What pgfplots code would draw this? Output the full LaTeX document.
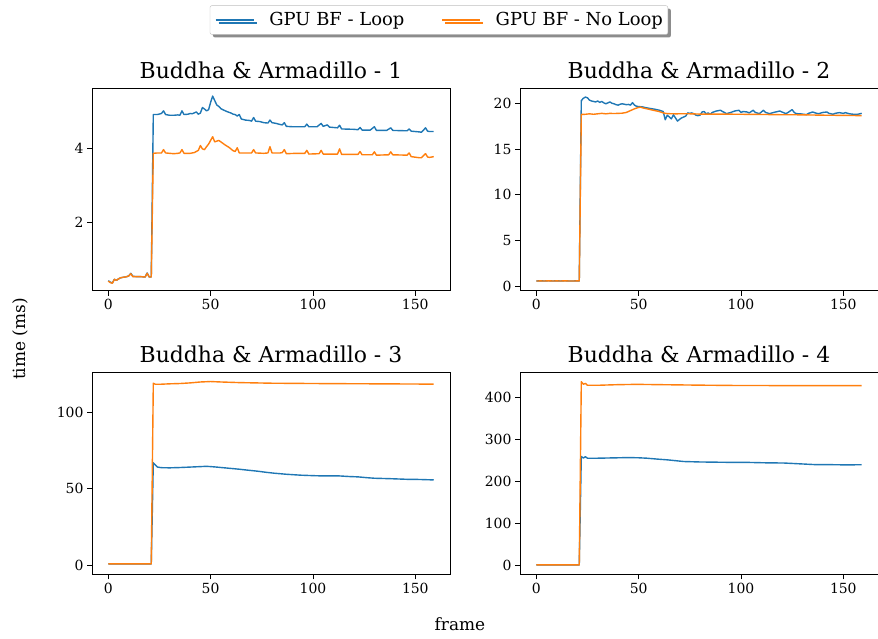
\documentclass[border=0pt]{standalone}
\usepackage{fontspec}
\setmainfont{DejaVu Serif}
\usepackage{pgfplots}
\pgfplotsset{compat=1.18}
\usetikzlibrary{shadows}

\definecolor{mplblue}{HTML}{1F77B4}
\definecolor{mplorange}{HTML}{FF7F0E}

\pgfplotsset{
  panel/.style={
    scale only axis, width=358bp, height=202bp,
    xmin=-7.95, xmax=166.95,
    xtick={0,50,100,150},
    tick align=outside, xtick pos=bottom, ytick pos=left,
    major tick length=5bp,
    every tick/.style={black, line width=0.8bp},
    axis line style={line width=0.8bp},
    tick label style={font=\fontsize{14}{16}\selectfont,
      /pgf/number format/assume math mode=true},
    title style={font=\fontsize{22}{24}\selectfont, anchor=base, yshift=4bp},
  },
  bl/.style={mplblue, line width=1.4bp, line join=round},
  og/.style={mplorange, line width=1.4bp, line join=round},
}

\begin{document}
\begin{tikzpicture}
\path[use as bounding box] (0,0) rectangle (878bp,639bp);

% ---- panel 1
\begin{axis}[panel, at={(92bp,348.3bp)}, anchor=south west,
  title={Buddha \& Armadillo - 1},
  ymin=0.15, ymax=5.62, ytick={2,4},
  legend style={at={(0.969,1.340)}, anchor=center, legend columns=2,
    draw=black!25, rounded corners=2bp, fill=white,
    drop shadow={shadow xshift=3bp, shadow yshift=-3bp, fill=black!45, opacity=1},
    font=\fontsize{18}{20}\selectfont,
    nodes={inner sep=0bp},
    /tikz/every odd column/.append style={column sep=15bp},
    /tikz/every even column/.append style={column sep=37bp},
    inner xsep=5bp, inner ysep=7bp},
  legend image code/.code={\draw[#1] (0bp,0bp) -- (38bp,0bp);},
]
\addplot[bl] coordinates {
(0,0.42) (1,0.38) (2,0.36) (3,0.46) (4,0.43) (5,0.47) (6,0.50) (8,0.52) (9,0.53)
(10,0.55) (11,0.62) (12,0.54) (14,0.53) (16,0.53) (18,0.52) (19,0.63) (20,0.52)
(21,0.52) (22,4.92) (24,4.92) (26,4.95) (27,5.02) (28,4.92) (30,4.90) (32,4.90)
(34,4.91) (35,4.90) (36,5.02) (37,4.92) (39,4.93) (40,4.95) (41,4.94) (43,4.99)
(44,4.93) (45,4.96) (46,5.11) (47,5.07) (48,5.02) (49,5.05) (50,5.25) (51,5.42)
(52,5.30) (53,5.18) (54,5.14) (55,5.08) (56,5.05) (58,5.00) (60,4.96) (61,4.93)
(62,4.92) (63,4.88) (64,4.92) (65,4.80) (67,4.77) (69,4.76) (70,4.74) (71,4.84)
(72,4.74) (74,4.73) (76,4.70) (78,4.69) (79,4.77) (80,4.70) (82,4.68) (84,4.65)
(85,4.64) (86,4.70) (87,4.60) (90,4.59) (94,4.59) (96,4.59) (97,4.66) (98,4.59)
(102,4.59) (104,4.68) (105,4.60) (107,4.64) (108,4.58) (112,4.56) (113,4.63)
(114,4.53) (120,4.52) (122,4.51) (123,4.57) (124,4.50) (128,4.50) (130,4.59)
(131,4.49) (136,4.49) (138,4.56) (139,4.49) (146,4.48) (147,4.53) (148,4.47)
(152,4.45) (153,4.44) (155,4.56) (156,4.47) (157,4.46) (159,4.46)
};
\addlegendentry{GPU BF - Loop}
\addplot[og] coordinates {
(0,0.41) (1,0.37) (2,0.35) (3,0.46) (4,0.43) (5,0.47) (6,0.50) (8,0.52) (9,0.53)
(10,0.55) (11,0.61) (12,0.53) (14,0.53) (16,0.53) (18,0.52) (19,0.62) (20,0.52)
(21,0.52) (22,3.87) (24,3.88) (26,3.88) (27,3.97) (28,3.88) (30,3.87) (32,3.86)
(34,3.87) (35,3.88) (36,3.97) (37,3.87) (40,3.87) (42,3.89) (44,3.95) (45,4.08)
(46,3.99) (47,3.97) (48,4.05) (49,4.12) (50,4.22) (51,4.32) (52,4.18) (53,4.20)
(54,4.22) (55,4.18) (57,4.10) (59,4.03) (61,3.94) (62,3.92) (63,4.02) (64,3.88)
(68,3.88) (70,3.88) (71,3.97) (72,3.88) (76,3.87) (78,3.88) (79,4.05) (80,3.88)
(84,3.88) (85,3.89) (86,3.97) (87,3.86) (92,3.87) (96,3.87) (97,3.95) (98,3.85)
(103,3.86) (104,3.95) (105,3.85) (112,3.85) (113,3.99) (114,3.84) (120,3.84)
(122,3.84) (123,3.92) (124,3.83) (129,3.83) (130,3.91) (131,3.82) (137,3.83)
(138,3.91) (139,3.83) (146,3.82) (147,3.88) (148,3.78) (152,3.75) (153,3.75)
(155,3.86) (156,3.77) (157,3.76) (159,3.78)
};
\addlegendentry{GPU BF - No Loop}
\end{axis}

% ---- panel 2
\begin{axis}[panel, at={(520bp,348.3bp)}, anchor=south west,
  title={Buddha \& Armadillo - 2},
  ymin=-0.51, ymax=21.6, ytick={0,5,10,15,20}]
\addplot[bl] coordinates {
(0,0.55) (2,0.57) (4,0.55) (6,0.58) (8,0.55) (10,0.57) (12,0.55) (14,0.58)
(16,0.55) (18,0.55) (20,0.57) (21,0.56)
(22,20.30) (23,20.55) (24,20.68) (25,20.60) (26,20.35) (27,20.25)
(28,20.20) (29,20.15) (30,20.25) (31,20.10) (32,20.20) (33,20.05) (34,19.95)
(35,20.05) (36,20.15) (37,20.00) (38,19.95) (39,19.85) (40,19.80) (41,19.90)
(42,19.95) (43,19.90) (44,19.85) (45,19.88) (46,19.80) (47,20.07) (48,19.80)
(49,19.67) (50,19.65) (52,19.60) (54,19.50) (56,19.42) (58,19.35) (60,19.25)
(62,19.10) (63,18.20) (64,18.70) (65,18.50) (66,18.30) (67,18.75) (68,18.40)
(69,18.05) (70,18.25) (71,18.40) (72,18.50) (73,18.60) (74,18.95) (75,18.90)
(76,18.95) (77,18.85) (78,18.70) (79,18.65) (80,18.70) (81,19.05) (82,19.10)
(83,18.85) (84,18.95) (85,18.80) (86,19.00) (88,19.16) (90,19.24) (91,19.10)
(93,18.87) (95,19.00) (97,19.16) (99,19.24) (100,19.00) (101,19.10) (103,19.05)
(104,18.95) (106,19.24) (107,19.00) (109,18.87) (111,19.24) (112,19.00)
(114,18.87) (116,19.00) (119,19.16) (120,19.05) (122,18.87) (123,19.00)
(125,19.31) (126,19.00) (127,18.87) (129,18.85) (132,18.76) (133,18.90)
(135,19.05) (137,18.90) (138,18.87) (140,19.00) (142,19.05) (143,18.90)
(145,18.80) (146,18.90) (148,18.98) (150,18.90) (151,18.98) (153,18.85)
(155,18.80) (157,18.80) (158,18.85) (159,18.90)
};
\addplot[og] coordinates {
(0,0.55) (2,0.56) (4,0.55) (6,0.57) (8,0.55) (10,0.56) (12,0.55) (14,0.57)
(16,0.55) (18,0.55) (20,0.56) (21,0.56)
(22,18.78) (24,18.80) (26,18.85) (28,18.80) (30,18.85) (32,18.90)
(34,18.85) (36,18.90) (38,18.88) (40,18.90) (42,18.92) (44,19.00) (46,19.20)
(48,19.40) (50,19.55) (51,19.58) (52,19.50) (54,19.40) (56,19.30) (58,19.20)
(60,19.10) (62,18.95) (64,18.87) (68,18.85) (74,18.86) (80,18.82) (90,18.82)
(100,18.80) (110,18.78) (120,18.75) (130,18.74) (140,18.70) (150,18.68) (159,18.65)
};
\end{axis}

% ---- panel 3
\begin{axis}[panel, at={(92bp,64.5bp)}, anchor=south west,
  title={Buddha \& Armadillo - 3},
  ymin=-6, ymax=126, ytick={0,50,100}]
\addplot[bl] coordinates {
(0,0.9) (5,0.9) (10,0.9) (15,0.9) (20,0.9) (21,0.9)
(22,67.0) (23,65.5) (24,64.2) (26,63.8) (30,63.7) (35,63.9) (40,64.2)
(45,64.5) (48,64.7) (52,64.3) (56,63.8) (60,63.3) (64,62.8) (68,62.2) (73,61.5)
(77,60.8) (81,60.2) (87,59.5) (94,58.9) (100,58.6) (105,58.4) (113,58.4)
(118,58.0) (122,57.8) (126,57.3) (130,56.9) (138,56.6) (146,56.2) (152,56.1)
(159,55.8)
};
\addplot[og] coordinates {
(0,0.9) (5,0.9) (10,0.9) (15,0.9) (20,0.9) (21,0.9)
(22,119.0) (23,118.3) (25,118.3) (30,118.6) (35,118.8) (40,119.2) (45,119.8)
(50,120.1) (55,119.8) (64,119.4) (80,119.0) (100,118.8) (113,118.7) (130,118.6)
(145,118.5) (159,118.4)
};
\end{axis}

% ---- panel 4
\begin{axis}[panel, at={(520bp,64.5bp)}, anchor=south west,
  title={Buddha \& Armadillo - 4},
  ymin=-22, ymax=460, ytick={0,100,200,300,400}]
\addplot[bl] coordinates {
(0,1) (5,1) (10,1) (15,1) (20,1) (21,1)
(22,259.5) (23,256) (24,259) (25,255.5) (30,255.5) (40,256.5) (45,257)
(50,256.5) (54,255.5) (60,253) (64,251.6) (72,247.6) (80,246.5) (88,246)
(96,245.5) (104,245.4) (112,244.5) (121,244) (129,242) (137,240) (145,240)
(152,239.5) (159,240)
};
\addplot[og] coordinates {
(0,1) (5,1) (10,1) (15,1) (20,1) (21,1)
(22,438) (23,432) (24,434) (25,429.5) (30,429.5) (40,431) (49,431.7)
(60,431) (80,429.8) (98,429) (120,428.8) (140,428.7) (159,428.6)
};
\end{axis}

\node[rotate=90, font=\fontsize{17}{20}\selectfont] at (20bp,300bp) {time (ms)};
\node[font=\fontsize{17}{20}\selectfont] at (460bp,15bp) {frame};
\end{tikzpicture}
\end{document}
